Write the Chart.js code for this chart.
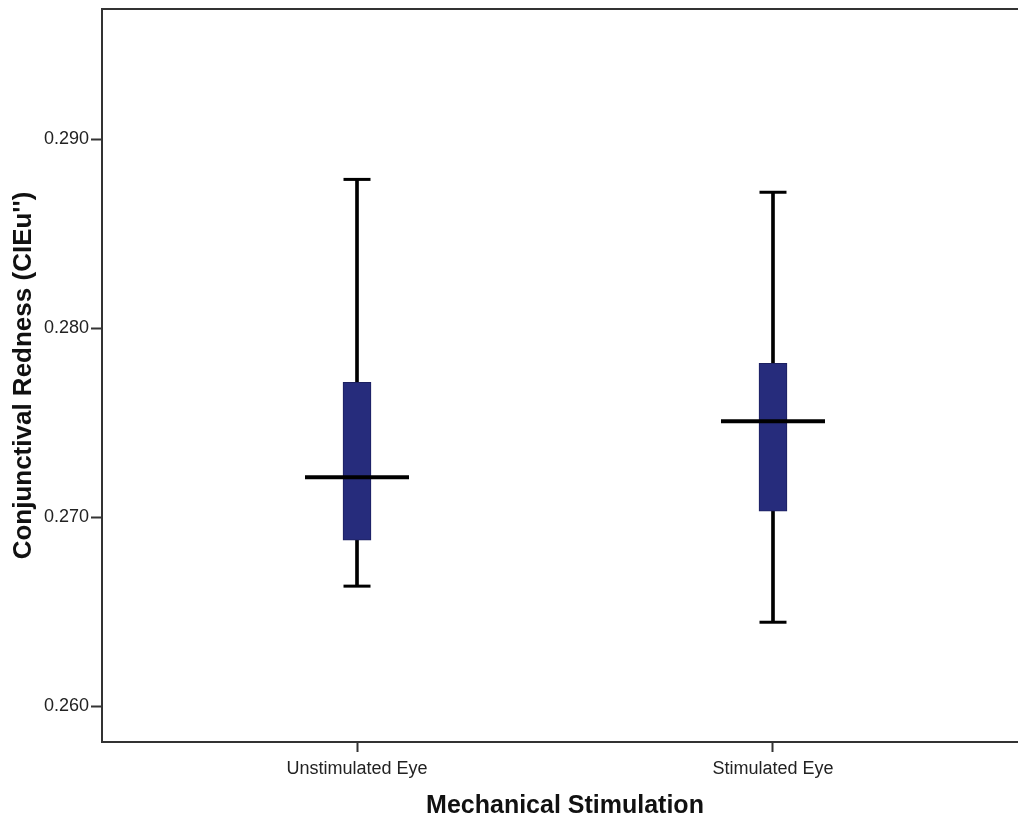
<!DOCTYPE html>
<html>
<head>
<meta charset="utf-8">
<script src="https://cdn.jsdelivr.net/npm/chart.js@4/dist/chart.umd.min.js"></script>
<style>
    body { margin: 0; background: #fff; overflow: hidden; }
    #wrap { width: 1018px; height: 821px; overflow: hidden; }
</style>
</head>
<body>
<div id="wrap"><canvas id="myChart" width="1040" height="821"></canvas></div>
<script>
// values (CIE u'')
const categories = ["Unstimulated Eye", "Stimulated Eye"]
const whiskerLow = [0.26635, 0.26444]
const boxLow = [0.26878, 0.27032]
const medians = [0.27212, 0.27508]
const boxHigh = [0.27714, 0.27815]
const whiskerHigh = [0.28788, 0.28720]
const yTicks = [0.260, 0.270, 0.280, 0.290]

const ink = "#000000"
const axisColor = "#333333"
const boxColor = "#262c7c"

// top edge of the frame (SPSS draws a box round the plot)
const framePlugin = {
    id: "frame",
    afterDraw(chart) {
        const { ctx, chartArea } = chart
        ctx.save()
        ctx.strokeStyle = axisColor
        ctx.lineWidth = 2
        ctx.beginPath()
        ctx.moveTo(chartArea.left, chartArea.top)
        ctx.lineTo(chartArea.right, chartArea.top)
        ctx.stroke()
        ctx.restore()
    }
}

function pairs(ys) {
    return ys.map((y, i) => ({ x: i, y: y }))
}

function ranges(lo, hi) {
    return lo.map((v, i) => ({ x: i, y: [v, hi[i]] }))
}

const ctx = document.getElementById("myChart")
const myChart = new Chart(ctx, {
    type: "bar",
    data: {
        datasets: [
            {
                label: "whisker",
                data: ranges(whiskerLow, whiskerHigh),
                backgroundColor: ink,
                barThickness: 3,
                grouped: false,
                order: 4,
            },
            {
                label: "box",
                data: ranges(boxLow, boxHigh),
                backgroundColor: boxColor,
                borderColor: "#1c2060",
                borderWidth: 1,
                borderSkipped: false,
                barThickness: 28,
                grouped: false,
                order: 3,
            },
            {
                type: "scatter",
                label: "caps",
                data: pairs(whiskerLow).concat(pairs(whiskerHigh)),
                pointStyle: "line",
                pointRadius: 13.5,
                borderColor: ink,
                borderWidth: 3,
                order: 2,
            },
            {
                type: "scatter",
                label: "median",
                data: pairs(medians),
                pointStyle: "line",
                pointRadius: 52,
                borderColor: ink,
                borderWidth: 4,
                order: 1,
            },
        ]
    },
    plugins: [framePlugin],
    options: {
        responsive: false,
        animation: false,
        events: [],
        layout: {
            autoPadding: false,
            padding: { top: 9, right: 12, left: 0, bottom: 0 }
        },
        scales: {
            x: {
                type: "linear",
                offset: false,
                min: -0.613,
                max: 1.613,
                afterFit: scale => { scale.height = 79 },
                afterBuildTicks: scale => {
                    scale.ticks = categories.map((c, i) => ({ value: i }))
                },
                border: { display: true, color: axisColor, width: 2 },
                grid: {
                    display: true,
                    offset: false,
                    drawOnChartArea: false,
                    drawTicks: true,
                    tickLength: 10,
                    tickWidth: 2,
                    color: axisColor,
                },
                ticks: {
                    padding: 6,
                    color: "#222",
                    font: { family: "Liberation Sans", size: 18 },
                    callback: v => categories[v],
                },
                title: {
                    display: true,
                    text: "Mechanical Stimulation",
                    color: "#111",
                    font: { family: "Liberation Sans", size: 25, weight: "bold" },
                    padding: { top: 0, bottom: 0 },
                },
            },
            y: {
                min: 0.2581,
                max: 0.2969,
                afterFit: scale => {
                    scale.width = 102
                    scale.paddingTop = 0
                },
                afterBuildTicks: scale => {
                    scale.ticks = yTicks.map(v => ({ value: v }))
                },
                border: { display: true, color: axisColor, width: 2 },
                grid: {
                    display: true,
                    drawOnChartArea: false,
                    drawTicks: true,
                    tickLength: 11,
                    tickWidth: 2,
                    color: axisColor,
                },
                ticks: {
                    padding: 2,
                    color: "#222",
                    font: { family: "Liberation Sans", size: 18, lineHeight: 1 },
                    callback: v => v.toFixed(3),
                },
                title: {
                    display: true,
                    text: "Conjunctival Redness (CIEu'')",
                    color: "#111",
                    font: { family: "Liberation Sans", size: 26, weight: "bold" },
                    padding: { top: 8, bottom: 0 },
                },
            }
        },
        plugins: {
            legend: { display: false },
            tooltip: { enabled: false },
        }
    },
})
</script>
</body>
</html>
